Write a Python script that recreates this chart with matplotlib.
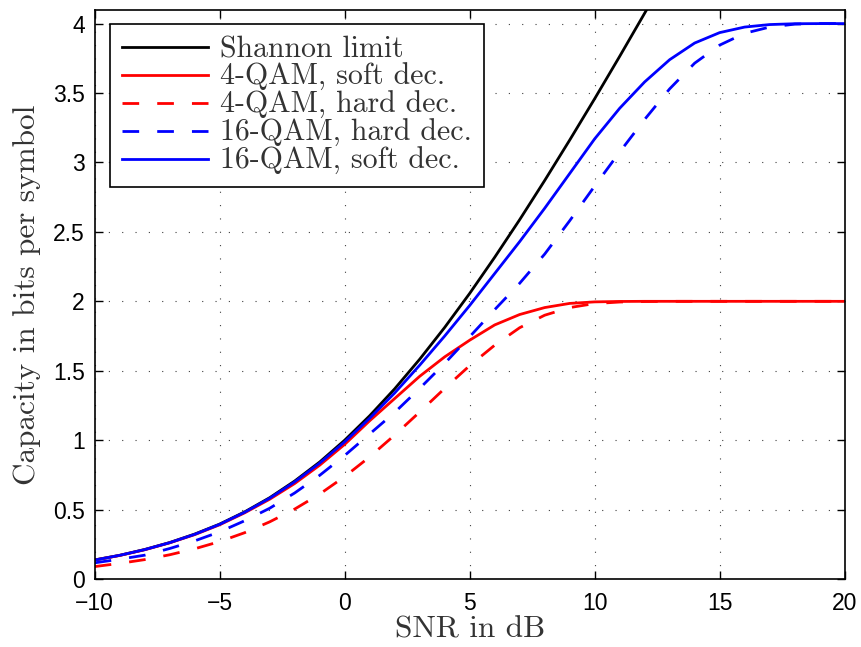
import matplotlib
matplotlib.use("Agg")
import matplotlib.pyplot as plt
from matplotlib.ticker import MultipleLocator, FormatStrFormatter

# SNR grid in dB
snr_db = list(range(-10, 21))

shannon = [0.138, 0.171, 0.213, 0.263, 0.324, 0.396, 0.484, 0.586, 0.706, 0.843,
           1.000, 1.176, 1.370, 1.583, 1.812, 2.057, 2.317, 2.588, 2.870, 3.161,
           3.459, 3.764, 4.075, 4.389, 4.707, 5.028, 5.351, 5.676, 6.002, 6.329, 6.658]

qam4_soft = [0.137, 0.170, 0.211, 0.261, 0.320, 0.391, 0.477, 0.575, 0.688, 0.820,
             0.970, 1.140, 1.300, 1.460, 1.600, 1.720, 1.830, 1.905, 1.955, 1.985,
             1.996, 1.999, 2.000, 2.000, 2.000, 2.000, 2.000, 2.000, 2.000, 2.000, 2.000]

qam4_hard = [0.090, 0.113, 0.140, 0.175, 0.218, 0.270, 0.334, 0.412, 0.504, 0.612,
             0.738, 0.880, 1.037, 1.203, 1.373, 1.537, 1.684, 1.810, 1.900, 1.955,
             1.984, 1.995, 1.999, 2.000, 2.000, 2.000, 2.000, 2.000, 2.000, 2.000, 2.000]

qam16_hard = [0.117, 0.143, 0.172, 0.220, 0.275, 0.340, 0.420, 0.510, 0.620, 0.747,
              0.890, 1.045, 1.200, 1.373, 1.553, 1.745, 1.940, 2.130, 2.340, 2.580,
              2.830, 3.075, 3.310, 3.530, 3.715, 3.845, 3.930, 3.975, 3.996, 4.000, 4.000]

qam16_soft = [0.137, 0.171, 0.212, 0.262, 0.322, 0.394, 0.481, 0.582, 0.700, 0.835,
              0.988, 1.158, 1.340, 1.540, 1.750, 1.970, 2.200, 2.430, 2.670, 2.920,
              3.170, 3.390, 3.580, 3.740, 3.860, 3.935, 3.975, 3.993, 3.999, 4.000, 4.000]

serif = "cmr10"
fig = plt.figure(figsize=(8.61, 6.47), dpi=100)
ax = fig.add_axes([0.110, 0.105, 0.871, 0.880])

lw = 2.0
dash = (6, 6.5)
ax.plot(snr_db, shannon, color="black", lw=lw, label="Shannon limit")
ax.plot(snr_db, qam4_soft, color="red", lw=lw, label="4-QAM, soft dec.")
ax.plot(snr_db, qam4_hard, color="red", lw=lw, dashes=dash, label="4-QAM, hard dec.")
ax.plot(snr_db, qam16_hard, color="blue", lw=lw, dashes=dash, label="16-QAM, hard dec.")
ax.plot(snr_db, qam16_soft, color="blue", lw=lw, label="16-QAM, soft dec.")

ax.set_xlim(-10, 20)
ax.set_ylim(0, 4.1)
ax.xaxis.set_major_locator(MultipleLocator(5))
ax.yaxis.set_major_locator(MultipleLocator(0.5))
ax.yaxis.set_major_formatter(FormatStrFormatter("%g"))
ax.grid(True, color="0.25", lw=0.8, dashes=(1, 11))
ax.tick_params(direction="in", length=6, width=1, top=True, right=True,
               labelsize=16.5)
ax.tick_params(axis="x", pad=9)
ax.tick_params(axis="y", pad=7)
for lab in ax.get_xticklabels() + ax.get_yticklabels():
    lab.set_fontfamily("Liberation Sans")
for sp in ax.spines.values():
    sp.set_linewidth(1.2)

ax.set_xlabel("SNR in dB", fontfamily=serif, fontsize=22.5, color="0.2", labelpad=1)
ax.set_ylabel("Capacity in bits per symbol", fontfamily=serif, fontsize=22.5,
              color="0.2", labelpad=9)

leg = ax.legend(loc="upper left", bbox_to_anchor=(0.02, 0.975), borderaxespad=0,
                prop={"family": serif, "size": 21.5}, handlelength=2.9,
                handletextpad=0.4, labelspacing=0.0, borderpad=0.4,
                fancybox=False, framealpha=1, edgecolor="black")
leg.get_frame().set_linewidth(1.2)
for t in leg.get_texts():
    t.set_color("0.2")

fig.savefig("out.png", dpi=100)
